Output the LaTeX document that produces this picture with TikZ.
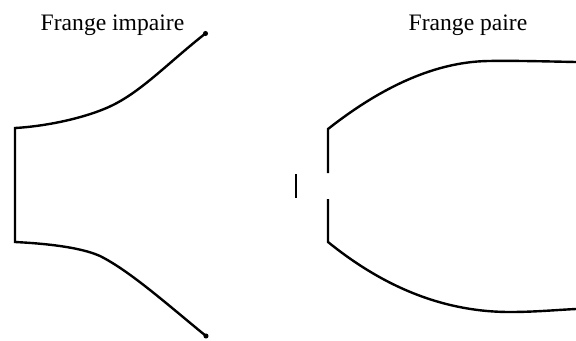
\documentclass[tikz,border=0pt]{standalone}
\usepackage{fontspec}
\setmainfont{Liberation Serif}
\usetikzlibrary{positioning}
\tikzset{
	frange/.style={line width=1.8pt, line join=miter},
	titre/.style={font=\fontsize{17.7}{20}\selectfont, inner sep=0pt},
}
\begin{document}
\begin{tikzpicture}[x=0.75pt, y=-0.75pt]
		\useasboundingbox (0,0) rectangle (576,340);
		\node[titre] (impaire) at (112.5,25) {Frange impaire};
		\node[titre] (paire) at (468,25) {Frange paire};
		% frange impaire
		\draw[frange] (206,33) .. controls (168,63) and (143,90) .. (113,105)
			.. controls (90,116.5) and (50,126) .. (15,128) -- (15,242)
			.. controls (45,243.5) and (80,247) .. (100,256)
			.. controls (130,271) and (168,305) .. (206,336);
		\fill (205.5,33.5) circle (1.9pt);
		\fill (206,336) circle (1.9pt);
		% frange paire
		\draw[frange] (328,173) -- (328,129) .. controls (375,92) and (430,62) .. (488,61)
			.. controls (515,60.5) and (550,61.5) .. (576,62);
		\draw[frange] (328,199) -- (328,242) .. controls (375,280) and (435,312) .. (510,312)
			.. controls (535,312) and (555,310) .. (576,309);
		\draw[frange] (296,174) -- (296,198);
\end{tikzpicture}
\end{document}
